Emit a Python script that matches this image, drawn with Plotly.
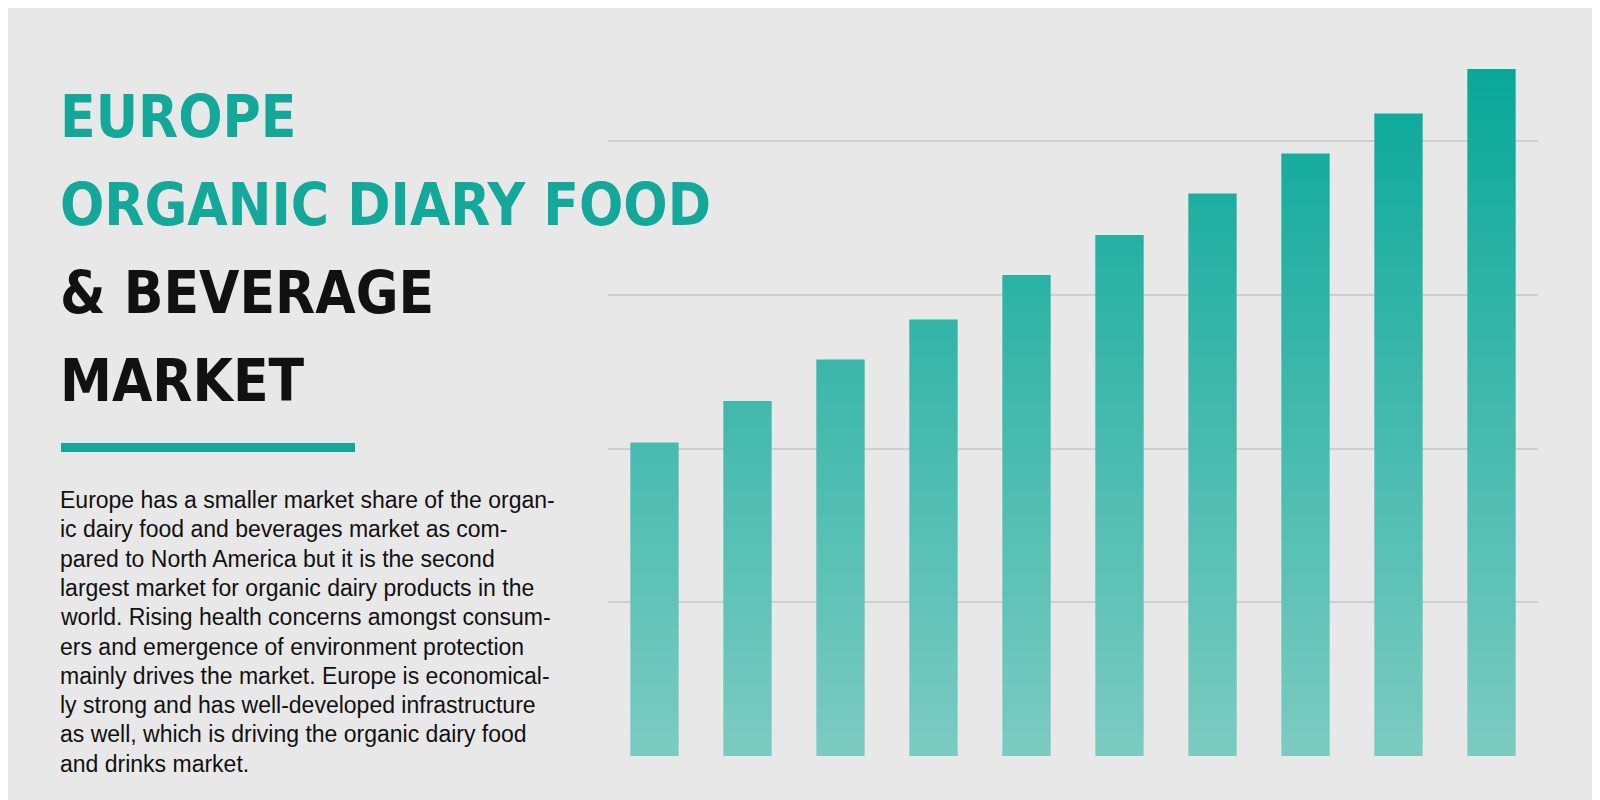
import plotly.graph_objects as go

# bar heights in grid units (gridlines at 1, 2, 3, 4)
values = [2.04, 2.31, 2.58, 2.84, 3.13, 3.39, 3.66, 3.92, 4.18, 4.47]
categories = list(range(len(values)))

title_lines = [("EUROPE", "#14a89a"), ("ORGANIC DIARY FOOD", "#14a89a"),
               ("& BEVERAGE", "#111111"), ("MARKET", "#111111")]
body_lines = [
    "Europe has a smaller market share of the organ-",
    "ic dairy food and beverages market as com-",
    "pared to North America but it is the second",
    "largest market for organic dairy products in the",
    "world. Rising health concerns amongst consum-",
    "ers and emergence of environment protection",
    "mainly drives the market. Europe is economical-",
    "ly strong and has well-developed infrastructure",
    "as well, which is driving the organic dairy food",
    "and drinks market.",
]

BG = "#e8e8e8"
W, H = 1600, 800
L, R, T, B = 600, 70, 41, 52
pw, ph = W - L - R, H - T - B


def px(x):
    return (x - L) / pw


def py(y):
    return (H - B - y) / ph


fig = go.Figure()
half = 0.26
for c, v in zip(categories, values):
    fig.add_trace(go.Scatter(
        x=[c - half, c + half, c + half, c - half, c - half],
        y=[0, 0, v, v, 0],
        mode="lines", line=dict(width=0), fill="toself",
        fillgradient=dict(type="vertical", start=0, stop=4.6,
                          colorscale=[[0, "#7ccbc1"], [1, "#05a797"]]),
        hoverinfo="skip", showlegend=False,
    ))

annotations = []
for i, (txt, col) in enumerate(title_lines):
    annotations.append(dict(
        text=f"<b>{txt}</b>", x=px(50), y=py(133 + i * 88), xref="paper", yref="paper",
        xanchor="left", yanchor="bottom", showarrow=False, yshift=-12,
        font=dict(family="DejaVu Sans Condensed", size=58, color=col),
    ))
for i, line in enumerate(body_lines):
    annotations.append(dict(
        text=line, x=px(50), y=py(492 + i * 29.3), xref="paper", yref="paper",
        xanchor="left", yanchor="middle", showarrow=False,
        font=dict(family="Liberation Sans, Arial", size=23, color="#111111"),
    ))

fig.update_layout(
    width=W, height=H, paper_bgcolor=BG, plot_bgcolor=BG,
    margin=dict(l=L, r=R, t=T, b=B),
    annotations=annotations,
    shapes=[dict(type="rect", xref="paper", yref="paper", x0=px(53), x1=px(347),
                 y0=py(444), y1=py(435), fillcolor="#14a89a", line=dict(width=0))],
)
fig.update_xaxes(range=[-0.5, 9.5], visible=False)
fig.update_yaxes(range=[0, 4.6], tickvals=[0, 1, 2, 3, 4], showticklabels=False,
                 gridcolor="#cfcfcf", gridwidth=2, zeroline=False)
fig.write_html("out.html")
